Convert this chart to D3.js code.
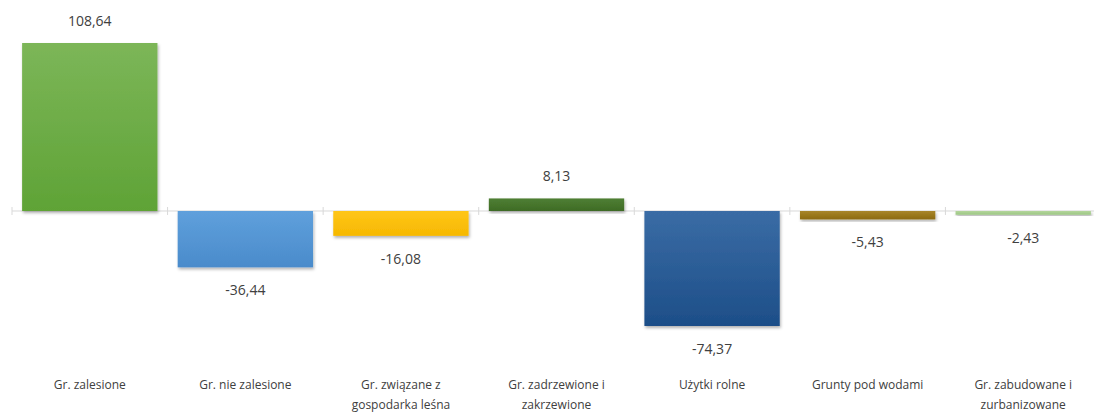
<!DOCTYPE html>
<html>
<head>
<meta charset="utf-8">
<script src="https://cdn.jsdelivr.net/npm/d3@7"></script>
<style>
  body { margin: 0; background: #fff; }
  text { font-family: "Open Sans", "Noto Sans", sans-serif; fill: #404040; }
</style>
</head>
<body>
<script>
var categories = ["Gr. zalesione", "Gr. nie zalesione", "Gr. związane z gospodarka leśna",
                  "Gr. zadrzewione i zakrzewione", "Użytki rolne", "Grunty pod wodami",
                  "Gr. zabudowane i zurbanizowane"];
var labelLines = [["Gr. zalesione"], ["Gr. nie zalesione"], ["Gr. związane z", "gospodarka leśna"],
                  ["Gr. zadrzewione i", "zakrzewione"], ["Użytki rolne"], ["Grunty pod wodami"],
                  ["Gr. zabudowane i", "zurbanizowane"]];
var values = [108.64, -36.44, -16.08, 8.13, -74.37, -5.43, -2.43];
var topColors = ["#7cb658", "#5fa0dc", "#ffc619", "#4f7f34", "#3a6ca5", "#a8862a", "#b4d69c"];
var bottomColors = ["#5fa336", "#4a8bcb", "#f6b800", "#3e6b25", "#1d4e88", "#8c6a10", "#9cc683"];

var width = 1094, height = 415;

var svg = d3.select("body").append("svg")
    .attr("width", width)
    .attr("height", height);

var defs = svg.append("defs");
var shadow = defs.append("filter").attr("id", "shadow")
    .attr("x", "-10%").attr("y", "-10%").attr("width", "120%").attr("height", "130%");
shadow.append("feDropShadow")
    .attr("dx", 1).attr("dy", 2).attr("stdDeviation", 1.5)
    .attr("flood-color", "#000").attr("flood-opacity", 0.3);

categories.forEach(function(c, i) {
    var g = defs.append("linearGradient").attr("id", "grad" + i)
        .attr("x1", 0).attr("y1", 0).attr("x2", 0).attr("y2", 1);
    g.append("stop").attr("offset", "0%").attr("stop-color", topColors[i]);
    g.append("stop").attr("offset", "100%").attr("stop-color", bottomColors[i]);
});

var xScale = d3.scaleBand()
    .domain(categories)
    .range([12, 1101])
    .paddingInner(0.13)
    .paddingOuter(0.065);

var yScale = d3.scaleLinear()
    .domain([d3.min(values), d3.max(values)])
    .range([326, 43]);

var zero = yScale(0);
var step = xScale.step();

// axis line at zero with ticks between categories
var axis = svg.append("g");
axis.append("line")
    .attr("x1", 12).attr("x2", width)
    .attr("y1", zero).attr("y2", zero)
    .attr("stroke", "#d9d9d9");
axis.selectAll("line.tick")
    .data(d3.range(categories.length + 1))
    .enter().append("line")
    .attr("class", "tick")
    .attr("x1", function(i) { return 12 + i * step; })
    .attr("x2", function(i) { return 12 + i * step; })
    .attr("y1", zero - 4).attr("y2", zero + 4)
    .attr("stroke", "#d9d9d9");

var bar = svg.selectAll("g.bar")
    .data(values)
    .enter().append("g")
    .attr("class", "bar");

bar.append("rect")
    .attr("x", function(d, i) { return xScale(categories[i]); })
    .attr("y", function(d) { return d >= 0 ? yScale(d) : zero; })
    .attr("width", xScale.bandwidth())
    .attr("height", function(d) { return Math.max(Math.abs(yScale(d) - zero), 3); })
    .attr("fill", function(d, i) { return "url(#grad" + i + ")"; })
    .attr("filter", "url(#shadow)");

bar.append("text")
    .attr("x", function(d, i) { return xScale(categories[i]) + xScale.bandwidth() / 2; })
    .attr("y", function(d) { return d >= 0 ? yScale(d) - 22 : yScale(d) + 23; })
    .attr("dy", ".35em")
    .attr("text-anchor", "middle")
    .style("font-size", "14px")
    .text(function(d) { return d3.format(".2f")(d).replace(".", ",").replace("\u2212", "-"); });

// category labels
var cat = svg.selectAll("text.cat")
    .data(categories)
    .enter().append("text")
    .attr("class", "cat")
    .attr("x", function(d) { return xScale(d) + xScale.bandwidth() / 2; })
    .attr("y", 389)
    .attr("text-anchor", "middle")
    .style("font-size", "12px");
cat.selectAll("tspan")
    .data(function(d, i) { return labelLines[i]; })
    .enter().append("tspan")
    .attr("x", function() { return d3.select(this.parentNode).attr("x"); })
    .attr("dy", function(d, j) { return j === 0 ? 0 : 20; })
    .text(function(d) { return d; });
</script>
</body>
</html>
